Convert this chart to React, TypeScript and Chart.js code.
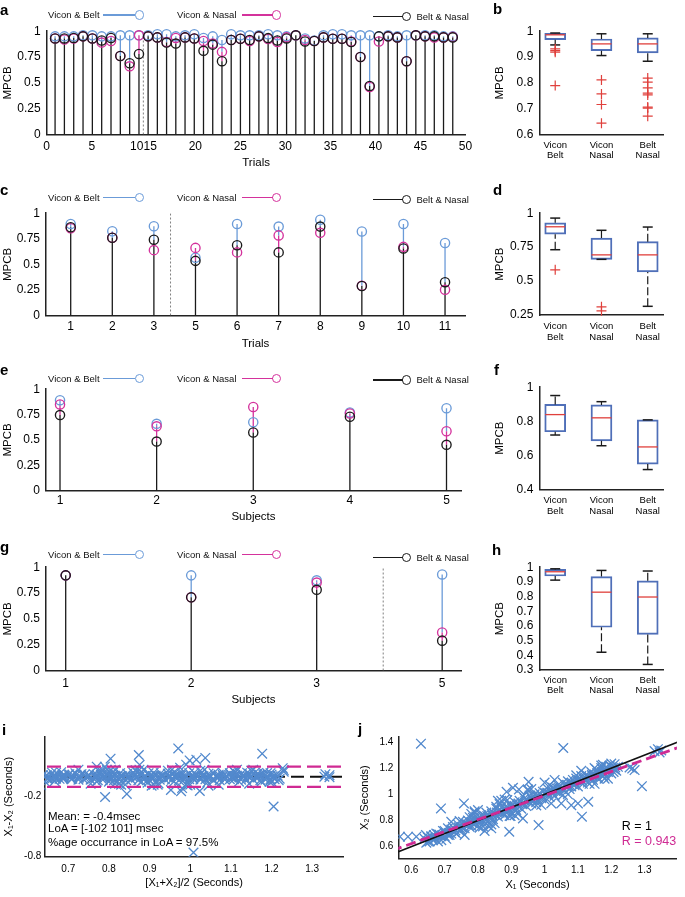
import React, { useEffect, useRef } from 'react';
import { Chart, registerables } from 'chart.js';

Chart.register(...registerables);

const FONT = '"Liberation Sans", Arial, Helvetica, sans-serif';
const BLUE = '#6b9bd8';
const MAGENTA = '#d4329c';
const BLACK = '#1a1a1a';
const BOX_BLUE = '#4f6fb8';
const BOX_RED = '#e0403c';
const SCATTER_BLUE = '#5289cd';
const LOA_MAGENTA = '#cf2a93';
const AXIS = '#222222';

// ---------------- panel a : all trials ----------------
const trialsA = [1, 2, 3, 4, 5, 6, 7, 8, 9, 10, 15, 16, 17, 18, 19, 20, 21, 22, 23, 24, 25, 26, 27, 28, 29, 30, 31, 32, 33, 34, 35, 36, 37, 38, 39, 40, 41, 42, 43, 44, 45, 46, 47, 48];
const viconBeltA = [0.95, 0.95, 0.95, 0.96, 0.96, 0.95, 0.95, 0.96, 0.96, 0.96, 0.96, 0.97, 0.97, 0.95, 0.96, 0.97, 0.935, 0.95, 0.915, 0.97, 0.96, 0.96, 0.96, 0.97, 0.96, 0.95, 0.96, 0.93, 0.91, 0.96, 0.97, 0.97, 0.96, 0.96, 0.96, 0.95, 0.96, 0.95, 0.96, 0.96, 0.96, 0.96, 0.95, 0.95];
const viconNasalA = [0.93, 0.92, 0.93, 0.95, 0.93, 0.89, 0.905, 0.76, 0.66, 0.96, 0.95, 0.94, 0.895, 0.935, 0.94, 0.93, 0.905, 0.88, 0.8, 0.915, 0.927, 0.905, 0.95, 0.925, 0.895, 0.94, 0.96, 0.915, 0.905, 0.94, 0.927, 0.927, 0.9, 0.75, 0.46, 0.9, 0.95, 0.94, 0.71, 0.96, 0.95, 0.94, 0.94, 0.945];
const beltNasalA = [0.93, 0.93, 0.935, 0.95, 0.93, 0.91, 0.935, 0.76, 0.69, 0.78, 0.95, 0.94, 0.89, 0.88, 0.94, 0.93, 0.81, 0.87, 0.71, 0.915, 0.927, 0.915, 0.95, 0.933, 0.91, 0.93, 0.96, 0.9, 0.905, 0.94, 0.927, 0.927, 0.895, 0.75, 0.47, 0.95, 0.95, 0.94, 0.71, 0.96, 0.95, 0.95, 0.94, 0.94];
const trialTickLabelsA = [0, 5, 10, 15, 20, 25, 30, 35, 40, 45, 50];

// ---------------- panel c ----------------
const trialsC = [1, 2, 3, 5, 6, 7, 8, 9, 10, 11];
const viconBeltC = [0.895, 0.824, 0.872, 0.565, 0.895, 0.869, 0.936, 0.821, 0.895, 0.709];
const viconNasalC = [0.853, 0.76, 0.639, 0.661, 0.617, 0.783, 0.808, 0.29, 0.671, 0.252];
const beltNasalC = [0.863, 0.76, 0.741, 0.534, 0.687, 0.617, 0.869, 0.288, 0.655, 0.326];

// ---------------- panel e ----------------
const subjectsE = [1, 2, 3, 4, 5];
const viconBeltE = [0.892, 0.659, 0.675, 0.771, 0.812];
const viconNasalE = [0.85, 0.634, 0.825, 0.761, 0.586];
const beltNasalE = [0.745, 0.484, 0.573, 0.729, 0.452];

// ---------------- panel g ----------------
const subjectsG = [1, 2, 3, 5];
const viconBeltG = [0.921, 0.921, 0.873, 0.93];
const viconNasalG = [0.921, 0.71, 0.851, 0.368];
const beltNasalG = [0.921, 0.708, 0.781, 0.289];

// ---------------- box plots: [lowerWhisker, q1, median, q3, upperWhisker] ----------------
const boxGroups = [['Vicon', 'Belt'], ['Vicon', 'Nasal'], ['Belt', 'Nasal']];
const boxStatsB = [[0.947, 0.967, 0.986, 0.992, 0.993], [0.906, 0.925, 0.951, 0.97, 0.99], [0.884, 0.916, 0.951, 0.974, 0.99]];
const outliersB = [[0.932, 0.925, 0.919, 0.79], [0.812, 0.758, 0.717, 0.645], [0.819, 0.803, 0.781, 0.761, 0.754, 0.707, 0.703, 0.672]];
const boxStatsD = [[0.731, 0.845, 0.9, 0.929, 0.964], [0.66, 0.66, 0.693, 0.817, 0.874], [0.314, 0.567, 0.693, 0.79, 0.898]];
const outliersD = [[0.583], [0.31, 0.281], []];
const boxStatsF = [[0.719, 0.738, 0.839, 0.899, 0.951], [0.656, 0.685, 0.82, 0.896, 0.915], [0.516, 0.548, 0.649, 0.808, 0.808]];
const outliersF = [[], [], []];
const boxStatsH = [[0.912, 0.94, 0.969, 0.985, 0.989], [0.421, 0.591, 0.83, 0.936, 0.978], [0.338, 0.543, 0.797, 0.907, 0.974]];
const outliersH = [[], [], []];

// ---------------- panels i / j : breath intervals (seconds) ----------------
const x1Seconds = [
  0.640, 0.645, 0.650, 0.655, 0.660, 0.665, 0.670, 0.675, 0.680, 0.685,
  0.690, 0.695, 0.700, 0.705, 0.710, 0.715, 0.720, 0.725, 0.730, 0.735,
  0.740, 0.745, 0.750, 0.755, 0.760, 0.765, 0.770, 0.775, 0.780, 0.785,
  0.790, 0.795, 0.800, 0.805, 0.810, 0.815, 0.820, 0.825, 0.830, 0.835,
  0.840, 0.845, 0.850, 0.855, 0.860, 0.865, 0.870, 0.875, 0.880, 0.885,
  0.890, 0.895, 0.900, 0.905, 0.910, 0.915, 0.920, 0.925, 0.930, 0.935,
  0.940, 0.945, 0.950, 0.955, 0.960, 0.965, 0.970, 0.975, 0.980, 0.985,
  0.990, 0.995, 1.000, 1.005, 1.010, 1.015, 1.020, 1.025, 1.030, 1.035,
  1.040, 1.045, 1.050, 1.055, 1.060, 1.065, 1.070, 1.075, 1.080, 1.085,
  1.090, 1.095, 1.100, 1.105, 1.110, 1.115, 1.120, 1.125, 1.130, 1.135,
  1.140, 1.145, 1.150, 1.155, 1.160, 1.165, 1.170, 1.175, 1.180, 1.185,
  1.190, 1.195, 1.200, 1.205, 1.210, 1.215, 1.220, 0.700, 0.710, 0.720,
  0.752, 0.768, 0.783, 0.797, 0.812, 0.828, 0.843, 0.857, 0.872, 0.888,
  0.903, 0.918, 0.933, 0.947, 0.962, 0.978, 0.993, 1.008, 1.022, 1.038,
  1.052, 1.068, 1.083, 1.097, 1.112, 1.128, 1.143, 1.158, 1.172, 1.188,
  1.150, 1.160, 1.170, 1.180, 1.200, 1.210, 0.650, 0.660, 0.680, 0.690,
  0.629, 1.056, 1.292, 0.689, 0.758, 0.982, 0.894, 1.112, 1.131, 0.952,
  0.950, 0.923, 0.886, 0.888, 0.935, 0.898, 1.020, 1.050, 1.080, 1.100,
  1.263, 1.270, 1.255, 1.330, 1.340, 1.350, 1.345, 1.207, 0.566, 0.590,
  0.615, 0.644, 0.668, 0.820, 0.860, 0.790, 0.840, 0.905, 1.000, 1.180,
  0.662, 0.672, 0.682, 0.692, 0.702, 0.712, 0.722, 0.732, 0.742, 0.752,
  0.762, 0.772, 0.782, 0.792, 0.802, 0.812, 0.822, 0.832, 0.842, 0.852,
  0.862, 0.872, 0.882, 0.892, 0.902, 0.912, 0.922, 0.932, 0.942, 0.952,
  0.962, 0.972, 0.982, 0.992, 1.002, 1.012, 1.022, 1.032, 1.042, 1.052,
  1.062, 1.072, 1.082, 1.092, 1.102, 1.112, 1.122, 1.132, 1.142, 1.152,
  1.162, 1.172, 1.182, 1.192, 1.202, 1.212, 0.775, 0.815, 0.855, 0.895,
  0.935, 0.975, 1.015, 1.055, 1.095, 1.135, 1.175, 0.745, 0.805, 0.865,
  0.720, 0.760, 0.790, 0.830, 0.870, 0.910, 0.950, 0.990, 1.030, 1.070,
  1.110, 1.150, 1.190, 0.800, 0.840, 0.880, 0.920, 0.960, 0.780, 0.850,
];
const x2Seconds = [
  0.660, 0.630, 0.670, 0.640, 0.680, 0.650, 0.660, 0.700, 0.640, 0.690,
  0.650, 0.720, 0.680, 0.660, 0.740, 0.690, 0.700, 0.750, 0.710, 0.700,
  0.770, 0.720, 0.730, 0.790, 0.740, 0.770, 0.800, 0.750, 0.760, 0.820,
  0.770, 0.830, 0.760, 0.790, 0.840, 0.780, 0.810, 0.860, 0.790, 0.830,
  0.870, 0.810, 0.850, 0.890, 0.830, 0.860, 0.900, 0.850, 0.840, 0.910,
  0.870, 0.920, 0.860, 0.900, 0.940, 0.880, 0.910, 0.950, 0.890, 0.930,
  0.970, 0.910, 0.950, 0.990, 0.930, 0.960, 1.000, 0.940, 0.960, 1.010,
  0.970, 1.020, 0.960, 1.000, 1.040, 0.980, 1.010, 1.050, 0.990, 1.030,
  1.070, 1.010, 1.050, 1.090, 1.030, 1.060, 1.100, 1.040, 1.060, 1.110,
  1.070, 1.120, 1.060, 1.100, 1.140, 1.080, 1.110, 1.150, 1.090, 1.130,
  1.170, 1.110, 1.150, 1.190, 1.130, 1.160, 1.200, 1.140, 1.160, 1.210,
  1.170, 1.220, 1.160, 1.200, 1.230, 1.180, 1.210, 0.720, 0.690, 0.730,
  0.748, 0.772, 0.781, 0.803, 0.806, 0.834, 0.838, 0.861, 0.869, 0.893,
  0.897, 0.925, 0.928, 0.952, 0.958, 0.983, 0.987, 1.012, 1.017, 1.044,
  1.047, 1.073, 1.078, 1.104, 1.106, 1.132, 1.139, 1.163, 1.168, 1.193,
  1.200, 1.120, 1.220, 1.150, 1.235, 1.190, 0.640, 0.675, 0.695, 0.680,
  1.387, 1.354, 1.062, 0.892, 0.930, 0.765, 0.714, 0.829, 0.943, 1.095,
  1.037, 1.037, 1.019, 0.956, 0.816, 0.834, 0.930, 0.930, 0.917, 0.930,
  1.197, 1.185, 1.205, 1.330, 1.345, 1.335, 1.320, 1.171, 0.676, 0.676,
  0.676, 0.689, 0.689, 0.720, 0.950, 0.870, 0.740, 1.050, 1.090, 1.120,
  0.668, 0.664, 0.690, 0.686, 0.708, 0.705, 0.730, 0.724, 0.748, 0.745,
  0.770, 0.765, 0.788, 0.785, 0.810, 0.805, 0.828, 0.826, 0.850, 0.845,
  0.870, 0.866, 0.888, 0.884, 0.910, 0.904, 0.930, 0.925, 0.948, 0.946,
  0.969, 0.965, 0.990, 0.985, 1.009, 1.005, 1.030, 1.026, 1.049, 1.044,
  1.070, 1.066, 1.088, 1.086, 1.110, 1.104, 1.128, 1.126, 1.150, 1.146,
  1.168, 1.165, 1.190, 1.186, 1.208, 1.205, 0.825, 0.755, 0.905, 0.835,
  0.985, 0.915, 1.070, 0.995, 1.145, 1.080, 1.225, 0.795, 0.745, 0.925,
  0.790, 0.690, 0.860, 0.760, 0.950, 0.840, 1.030, 0.920, 1.110, 1.000,
  1.180, 1.080, 1.120, 0.880, 0.770, 0.960, 0.850, 1.040, 0.850, 0.780,
];
const meanDiffMs = -0.4;
const loaMs = [-102, 101];
const loaOccurrencePct = 97.5;
const identityR = 1;
const fitR = 0.943;
const fitSlope = 0.917;
const fitIntercept = 0.073;

// ---------------- layout helpers ----------------
type Box = { left: number; top: number; width: number; height: number };
type Area = { l: number; t: number; r: number; b: number };

function frame(box: Box, area: Area) {
  return {
    padding: { top: area.t - box.top, right: box.left + box.width - area.r, left: 0, bottom: 0 },
    yWidth: area.l - box.left,
    xHeight: box.top + box.height - area.b,
  };
}

const tickFont = { family: FONT, size: 12 };
const titleFont = { family: FONT, size: 11.5 };
const border = { display: true, color: AXIS, width: 1.5 };
const noGrid = { display: false, drawTicks: false };
const commonOptions = {
  responsive: false,
  animation: false,
  events: [],
  plugins: { legend: { display: false }, tooltip: { enabled: false } },
};
const fmt1 = (v: number) => String(Math.round(v * 10) / 10);
const fmt2 = (v: number) => String(Math.round(v * 100) / 100);

function stemChart(p: any) {
  const f = frame(p.box, p.area);
  const pts = (v: number[]) => v.map((y, i) => ({ x: p.xs[i], y }));
  // a stem is drawn from where the stems painted above it end (the hidden part is not repainted)
  const stem = (v: number[], covers: number[][], color: string, order: number) => ({
    type: 'line',
    data: v.flatMap((y, i) => {
      const from = Math.min(y, Math.max(0, ...covers.map((c) => c[i])));
      return [{ x: p.xs[i], y: from }, { x: p.xs[i], y }, { x: p.xs[i], y: null }];
    }),
    borderColor: color, borderWidth: 1.3, pointRadius: 0, spanGaps: false, order,
  });
  const ring = (v: number[], color: string, order: number) => ({
    type: 'line', data: pts(v), showLine: false, pointStyle: 'circle', pointRadius: 4.6, pointBorderWidth: 1.35,
    pointBorderColor: color, pointBackgroundColor: 'rgba(0,0,0,0)', borderColor: color, order, clip: false,
  });
  const datasets: any[] = [
    stem(p.vb, [p.vn, p.bn], BLUE, 7), stem(p.vn, [p.bn], MAGENTA, 6), stem(p.bn, [], BLACK, 5),
    ring(p.vb, BLUE, 3), ring(p.vn, MAGENTA, 2), ring(p.bn, BLACK, 1),
  ];
  if (p.divider !== undefined) {
    datasets.push({
      type: 'line', data: [{ x: p.divider, y: 0 }, { x: p.divider, y: 1 }], borderColor: '#808080',
      borderWidth: 1, borderDash: [2, 2], pointRadius: 0, order: 8,
    });
  }
  return {
    type: 'scatter',
    data: { datasets },
    options: {
      ...commonOptions,
      layout: { padding: f.padding },
      scales: {
        x: {
          type: 'linear', min: p.xMin, max: p.xMax, offset: false, grid: noGrid, border,
          ticks: { font: tickFont, color: '#000', padding: p.xPad, autoSkip: false, maxRotation: 0, callback: (_v: any, i: number) => String(p.tickLabels[i]) },
          afterBuildTicks: (s: any) => { s.ticks = p.tickValues.map((value: number) => ({ value })); },
          afterFit: (s: any) => { s.height = f.xHeight; },
          title: { display: true, text: p.xTitle, font: titleFont, color: '#000', padding: 0 },
        },
        y: {
          type: 'linear', min: 0, max: 1, grid: noGrid, border,
          ticks: { stepSize: 0.25, font: tickFont, color: '#000', padding: 6, autoSkip: false, callback: (v: number) => fmt2(v) },
          afterFit: (s: any) => { s.width = f.yWidth; },
          title: { display: true, text: 'MPCB', font: titleFont, color: '#000', padding: 0 },
        },
      },
    },
  };
}

function boxChart(p: any) {
  const f = frame(p.box, p.area);
  const pos = [1, 2, 3];
  const stats: number[][] = p.stats;
  const whiskerData: any[] = [];
  stats.forEach((s, i) => {
    whiskerData.push({ x: pos[i], y: s[3] }, { x: pos[i], y: s[4] }, { x: pos[i], y: null });
    whiskerData.push({ x: pos[i], y: s[0] }, { x: pos[i], y: s[1] }, { x: pos[i], y: null });
  });
  const datasets: any[] = [
    {
      type: 'bar', data: stats.map((s, i) => ({ x: pos[i], y: [s[1], s[3]] })), backgroundColor: 'rgba(255,255,255,0)',
      borderColor: BOX_BLUE, borderWidth: 1.3, borderSkipped: false, barThickness: 21, grouped: false, order: 6,
    },
    { type: 'line', data: whiskerData, borderColor: BLACK, borderWidth: 1.2, borderDash: [8, 3], pointRadius: 0, spanGaps: false, order: 5 },
    {
      type: 'line', data: stats.flatMap((s, i) => [{ x: pos[i], y: s[0] }, { x: pos[i], y: s[4] }]), showLine: false,
      pointStyle: 'line', pointRadius: 5, pointBorderWidth: 1.5, pointBorderColor: BLACK, borderColor: BLACK, order: 4, clip: false,
    },
    {
      type: 'line', data: stats.map((s, i) => ({ x: pos[i], y: s[2] })), showLine: false,
      pointStyle: 'line', pointRadius: 10, pointBorderWidth: 1.3, pointBorderColor: BOX_RED, borderColor: BOX_RED, order: 3, clip: false,
    },
    {
      type: 'line', data: (p.outliers as number[][]).flatMap((o, i) => o.map((y) => ({ x: pos[i], y }))), showLine: false,
      pointStyle: 'cross', pointRadius: 5, pointBorderWidth: 1.2, pointBorderColor: BOX_RED, borderColor: BOX_RED, order: 2, clip: false,
    },
  ];
  return {
    type: 'bar',
    data: { datasets },
    options: {
      ...commonOptions,
      layout: { padding: f.padding },
      scales: {
        x: {
          type: 'linear', min: 0.656, max: 3.33, offset: false, grid: noGrid, border,
          ticks: { font: { family: FONT, size: 9.5, lineHeight: 1.1 }, color: '#000', padding: p.xPad, autoSkip: false, maxRotation: 0, callback: (_v: any, i: number) => boxGroups[i] },
          afterBuildTicks: (s: any) => { s.ticks = pos.map((value) => ({ value })); },
          afterFit: (s: any) => { s.height = f.xHeight; },
        },
        y: {
          type: 'linear', min: p.yMin, max: 1, grid: noGrid, border,
          ticks: { stepSize: p.yStep, font: tickFont, color: '#000', padding: 6, autoSkip: false, callback: (v: number) => fmt2(v) },
          afterFit: (s: any) => { s.width = f.yWidth; },
          title: { display: true, text: 'MPCB', font: titleFont, color: '#000', padding: 0 },
        },
      },
    },
  };
}

function scatterScales(f: any, p: any) {
  return {
    x: {
      type: 'linear', min: p.xMin, max: p.xMax, grid: noGrid, border,
      ticks: { font: { family: FONT, size: 10 }, color: '#000', padding: p.xPad, autoSkip: false, maxRotation: 0, callback: (v: number) => fmt1(v) },
      afterBuildTicks: (s: any) => { s.ticks = p.xTicks.map((value: number) => ({ value })); },
      afterFit: (s: any) => { s.height = f.xHeight; },
      title: { display: true, text: p.xTitle, font: { family: FONT, size: 11 }, color: '#000', padding: 0 },
    },
    y: {
      type: 'linear', min: p.yMin, max: p.yMax, grid: noGrid, border,
      ticks: { font: { family: FONT, size: 10 }, color: '#000', padding: p.yPad, autoSkip: false, callback: (v: number) => fmt1(v) },
      afterBuildTicks: (s: any) => { s.ticks = p.yTicks.map((value: number) => ({ value })); },
      afterFit: (s: any) => { s.width = f.yWidth; },
      title: { display: true, text: p.yTitle, font: { family: FONT, size: 11 }, color: '#000', padding: 0 },
    },
  };
}

const crossPoints = (data: any[]) => ({
  type: 'line', data, showLine: false, pointStyle: 'crossRot', pointRadius: 6.8, pointBorderWidth: 1.3,
  pointBorderColor: SCATTER_BLUE, borderColor: SCATTER_BLUE, pointBackgroundColor: 'rgba(0,0,0,0)', order: 5,
});

function blandAltmanChart(box: Box, area: Area) {
  const f = frame(box, area);
  const pts = x1Seconds.map((a, i) => ({ x: (a + x2Seconds[i]) / 2, y: a - x2Seconds[i] }));
  const hline = (y: number, color: string, width: number, dash: number[], order: number) => ({
    type: 'line', data: [{ x: 0.5, y }, { x: 1.5, y }], borderColor: color, borderWidth: width, borderDash: dash, pointRadius: 0, order,
  });
  return {
    type: 'scatter',
    data: {
      datasets: [
        hline(meanDiffMs / 1000, '#111', 2, [13, 6], 9),
        crossPoints(pts),
        hline(loaMs[1] / 1000, LOA_MAGENTA, 2.4, [14, 6], 1),
        hline(loaMs[0] / 1000, LOA_MAGENTA, 2.4, [14, 6], 1),
      ],
    },
    options: {
      ...commonOptions,
      layout: { padding: f.padding },
      scales: scatterScales(f, {
        xMin: 0.641, xMax: 1.378, xTicks: [0.7, 0.8, 0.9, 1, 1.1, 1.2, 1.3], xPad: 7,
        yMin: -0.8, yMax: 0.4, yTicks: [-0.8, -0.2], yPad: 3,
        xTitle: '[X\u2081+X\u2082]/2 (Seconds)', yTitle: 'X\u2081-X\u2082 (Seconds)',
      }),
    },
  };
}

function correlationChart(box: Box, area: Area) {
  const f = frame(box, area);
  const pts = x1Seconds.map((a, i) => ({ x: a, y: x2Seconds[i] }));
  const ends = [0.5, 1.5];
  return {
    type: 'scatter',
    data: {
      datasets: [
        crossPoints(pts),
        { type: 'line', data: ends.map((x) => ({ x, y: x })), borderColor: '#111', borderWidth: 1.5, pointRadius: 0, order: 2 },
        { type: 'line', data: ends.map((x) => ({ x, y: fitIntercept + fitSlope * x })), borderColor: LOA_MAGENTA, borderWidth: 2.8, borderDash: [10, 5], pointRadius: 0, order: 1 },
      ],
    },
    options: {
      ...commonOptions,
      layout: { padding: f.padding },
      scales: scatterScales(f, {
        xMin: 0.561, xMax: 1.397, xTicks: [0.6, 0.7, 0.8, 0.9, 1, 1.1, 1.2, 1.3], xPad: 5.5,
        yMin: 0.511, yMax: 1.438, yTicks: [0.6, 0.8, 1, 1.2, 1.4], yPad: 5,
        xTitle: 'X\u2081 (Seconds)', yTitle: 'X\u2082 (Seconds)',
      }),
    },
  };
}

// ---------------- components ----------------
function ChartCanvas({ box, build }: { box: Box; build: () => any }) {
  const ref = useRef<HTMLCanvasElement>(null);
  useEffect(() => {
    const chart = new Chart(ref.current as HTMLCanvasElement, build());
    return () => chart.destroy();
  }, []);
  return (
    <canvas
      ref={ref}
      width={box.width}
      height={box.height}
      style={{ position: 'absolute', left: box.left, top: box.top, width: box.width, height: box.height }}
    />
  );
}

function Txt({ x, baseline, size, bold, color, children }: any) {
  return (
    <div
      style={{
        position: 'absolute', left: x, top: baseline - 0.85 * size, fontSize: size, lineHeight: `${size}px`,
        fontWeight: bold ? 700 : 400, color: color || '#000', whiteSpace: 'nowrap', fontFamily: FONT,
      }}
    >
      {children}
    </div>
  );
}

function LegendItem({ text, color, textX, lineX1, lineX2, cx, cy }: any) {
  const size = 9.5;
  return (
    <>
      <div style={{ position: 'absolute', left: textX, top: cy - size / 2, fontSize: size, lineHeight: `${size}px`, fontFamily: FONT, whiteSpace: 'nowrap', color: '#111' }}>{text}</div>
      <div style={{ position: 'absolute', left: lineX1, top: cy - 0.65, width: lineX2 - lineX1, height: 1.3, background: color }} />
      <div style={{ position: 'absolute', left: cx - 4.8, top: cy - 4.8, width: 9.6, height: 9.6, border: `1.4px solid ${color}`, borderRadius: '50%', boxSizing: 'border-box' }} />
    </>
  );
}

function StemLegend({ y, yBlack }: { y: number; yBlack: number }) {
  return (
    <>
      <LegendItem text="Vicon & Belt" color={BLUE} textX={48} lineX1={103} lineX2={135} cx={139.3} cy={y} />
      <LegendItem text="Vicon & Nasal" color={MAGENTA} textX={177} lineX1={242} lineX2={273} cx={276.7} cy={y} />
      <LegendItem text="Belt & Nasal" color={BLACK} textX={416.5} lineX1={373} lineX2={403} cx={406.7} cy={yBlack} />
    </>
  );
}

const boxA: Box = { left: 1, top: 18, width: 480, height: 152 };
const boxC: Box = { left: 1, top: 200, width: 480, height: 151 };
const boxE: Box = { left: 1, top: 376, width: 480, height: 148 };
const boxG: Box = { left: 1, top: 554, width: 480, height: 153 };
const boxB: Box = { left: 493, top: 18, width: 192, height: 147 };
const boxD: Box = { left: 493, top: 200, width: 192, height: 146 };
const boxF: Box = { left: 493, top: 374, width: 192, height: 146 };
const boxH: Box = { left: 493, top: 554, width: 192, height: 146 };
const boxI: Box = { left: 2, top: 726, width: 350, height: 164 };
const boxJ: Box = { left: 358, top: 726, width: 327, height: 166 };

// panel a has a broken axis after trial 10
const trialPositionA = (t: number) => (t <= 10 ? 0.93 + (t - 1) * 1.035 : 11.26 + (t - 15) * 1.025);
const tickPositionA = (label: number) => (label <= 10 ? label : label - 3.5);
const indexPositions = (arr: number[]) => arr.map((_v, i) => i + 1);

export default function App() {
  return (
    <div style={{ position: 'absolute', left: 0, top: 0, width: 685, height: 897, background: '#fff', overflow: 'hidden', fontFamily: FONT }}>
      <ChartCanvas box={boxA} build={() => stemChart({
        box: boxA, area: { l: 46.7, t: 28.5, r: 465.5, b: 134.5 }, xMin: 0, xMax: 46.5,
        tickValues: trialTickLabelsA.map(tickPositionA), tickLabels: trialTickLabelsA, xs: trialsA.map(trialPositionA),
        vb: viconBeltA, vn: viconNasalA, bn: beltNasalA, divider: 10.73, xTitle: 'Trials', xPad: 5,
      })} />
      <ChartCanvas box={boxC} build={() => stemChart({
        box: boxC, area: { l: 46, t: 210.7, r: 465, b: 315.5 }, xMin: 0.406, xMax: 10.48,
        tickValues: indexPositions(trialsC), tickLabels: trialsC, xs: indexPositions(trialsC),
        vb: viconBeltC, vn: viconNasalC, bn: beltNasalC, divider: 3.4, xTitle: 'Trials', xPad: 4,
      })} />
      <ChartCanvas box={boxE} build={() => stemChart({
        box: boxE, area: { l: 46, t: 386, r: 461, b: 490.7 }, xMin: 0.855, xMax: 5.15,
        tickValues: indexPositions(subjectsE), tickLabels: subjectsE, xs: indexPositions(subjectsE),
        vb: viconBeltE, vn: viconNasalE, bn: beltNasalE, xTitle: 'Subjects', xPad: 3,
      })} />
      <ChartCanvas box={boxG} build={() => stemChart({
        box: boxG, area: { l: 46, t: 564.3, r: 461, b: 670.5 }, xMin: 0.843, xMax: 4.15,
        tickValues: indexPositions(subjectsG), tickLabels: subjectsG, xs: indexPositions(subjectsG),
        vb: viconBeltG, vn: viconNasalG, bn: beltNasalG, divider: 3.53, xTitle: 'Subjects', xPad: 5.5,
      })} />
      <ChartCanvas box={boxB} build={() => boxChart({ box: boxB, area: { l: 539.3, t: 30.7, r: 663, b: 134.8 }, yMin: 0.6, yStep: 0.1, stats: boxStatsB, outliers: outliersB, xPad: 5 })} />
      <ChartCanvas box={boxD} build={() => boxChart({ box: boxD, area: { l: 539.3, t: 210, r: 663, b: 315 }, yMin: 0.25, yStep: 0.25, stats: boxStatsD, outliers: outliersD, xPad: 6.5 })} />
      <ChartCanvas box={boxF} build={() => boxChart({ box: boxF, area: { l: 539.3, t: 384, r: 663, b: 489.3 }, yMin: 0.4, yStep: 0.2, stats: boxStatsF, outliers: outliersF, xPad: 6 })} />
      <ChartCanvas box={boxH} build={() => boxChart({ box: boxH, area: { l: 539.3, t: 564.3, r: 663, b: 670 }, yMin: 0.3, yStep: 0.1, stats: boxStatsH, outliers: outliersH, xPad: 5 })} />
      <ChartCanvas box={boxI} build={() => blandAltmanChart(boxI, { l: 44.3, t: 736.7, r: 345, b: 856.7 })} />
      <ChartCanvas box={boxJ} build={() => correlationChart(boxJ, { l: 398.3, t: 736.7, r: 685, b: 858.3 })} />

      <StemLegend y={15} yBlack={16.7} />
      <StemLegend y={197.3} yBlack={199.3} />
      <StemLegend y={378.3} yBlack={380} />
      <StemLegend y={554.3} yBlack={557.3} />

      <Txt x={0} baseline={15} size={15} bold>a</Txt>
      <Txt x={493} baseline={14} size={15} bold>b</Txt>
      <Txt x={0} baseline={195} size={15} bold>c</Txt>
      <Txt x={493} baseline={195} size={15} bold>d</Txt>
      <Txt x={0} baseline={375} size={15} bold>e</Txt>
      <Txt x={494} baseline={375} size={15} bold>f</Txt>
      <Txt x={0} baseline={552} size={15} bold>g</Txt>
      <Txt x={492} baseline={555} size={15} bold>h</Txt>
      <Txt x={2} baseline={735} size={15} bold>i</Txt>
      <Txt x={358} baseline={734} size={15} bold>j</Txt>

      <Txt x={48} baseline={820.5} size={11.5}>{`Mean: = ${meanDiffMs}msec`}</Txt>
      <Txt x={48} baseline={832.7} size={11.5}>{`LoA = [${loaMs[0]} ${loaMs[1]}] msec`}</Txt>
      <Txt x={48} baseline={846.5} size={11.5}>{`%age occurrance in LoA = ${loaOccurrencePct}%`}</Txt>

      <Txt x={621.7} baseline={830.7} size={12.5}>{`R = ${identityR}`}</Txt>
      <Txt x={621.7} baseline={846} size={12.5} color={LOA_MAGENTA}>{`R = ${fitR}`}</Txt>
    </div>
  );
}
